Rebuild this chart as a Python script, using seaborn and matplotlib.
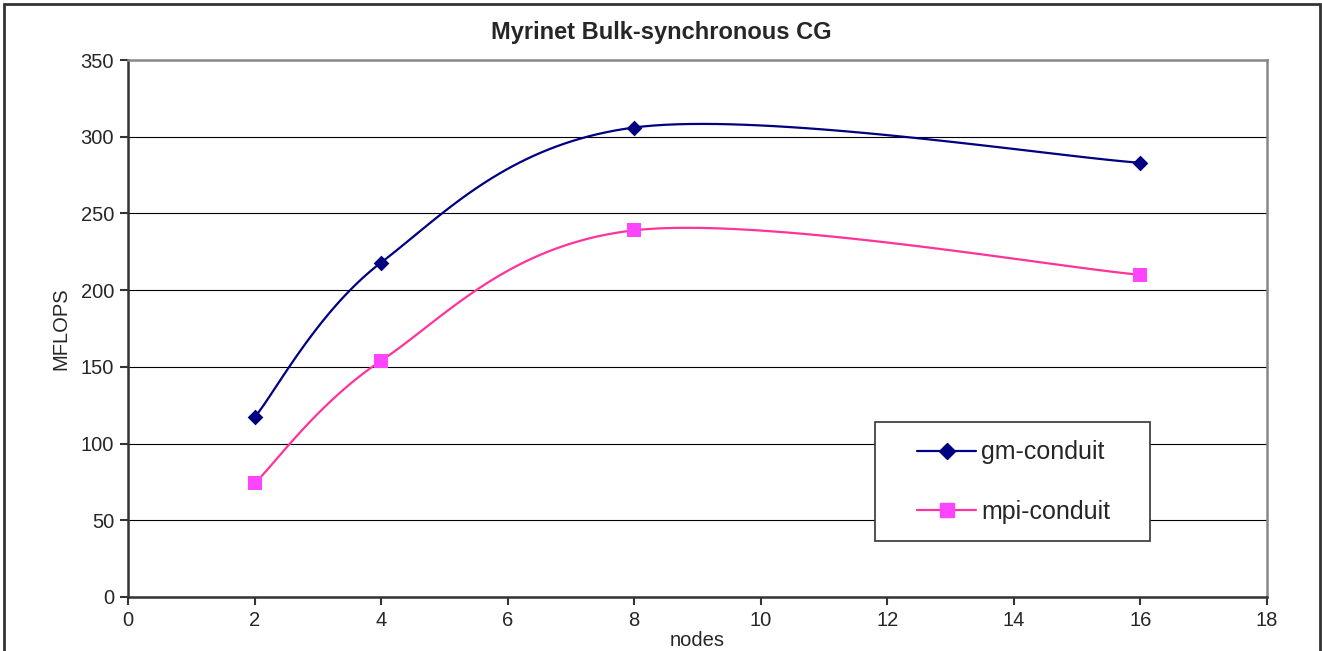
import numpy as np
import pandas as pd
import matplotlib
matplotlib.use("Agg")
import matplotlib.pyplot as plt
from matplotlib.lines import Line2D
from matplotlib.patches import Rectangle
import seaborn as sns

# ---- data ----
nodes = [2, 4, 8, 16]
gm_conduit = [117, 218, 306, 283]
mpi_conduit = [74, 154, 239, 210]
series_names = ["gm-conduit", "mpi-conduit"]
y_ticks = [0, 50, 100, 150, 200, 250, 300, 350]
x_ticks = [0, 2, 4, 6, 8, 10, 12, 14, 16, 18]

sns.set_theme(style="white")
plt.rcParams['font.family'] = ['Liberation Sans', 'DejaVu Sans']

W, H = 1322, 651
fig = plt.figure(figsize=(W / 100, H / 100), dpi=100)
AX_L, AX_R, AX_T, AX_B = 128, 1267, 60, 597
ax = fig.add_axes([AX_L / W, 1 - AX_B / H, (AX_R - AX_L) / W, (AX_B - AX_T) / H])


def smooth(xs, ys, n=40):
    """Excel-style Bezier smoothing (render only)."""
    P = np.column_stack([xs, ys]).astype(float)
    out = []
    for i in range(len(P) - 1):
        p0 = P[max(i - 1, 0)]
        p1 = P[i]
        p2 = P[i + 1]
        p3 = P[min(i + 2, len(P) - 1)]
        c1 = p1 + (p2 - p0) / 6
        c2 = p2 - (p3 - p1) / 6
        t = np.linspace(0, 1, n)[:, None]
        seg = ((1 - t) ** 3) * p1 + 3 * ((1 - t) ** 2) * t * c1 + 3 * (1 - t) * t ** 2 * c2 + t ** 3 * p2
        out.append(seg if i == 0 else seg[1:])
    return np.vstack(out)


line_colors = {"gm-conduit": "#000080", "mpi-conduit": "#FF3399"}
marker_face = {"gm-conduit": "#000080", "mpi-conduit": "#FF44FF"}
markers = {"gm-conduit": "D", "mpi-conduit": "s"}
msize = {"gm-conduit": 8.0, "mpi-conduit": 9.5}

for name, vals in zip(series_names, [gm_conduit, mpi_conduit]):
    s = smooth(nodes, vals)
    df = pd.DataFrame({"x": s[:, 0], "y": s[:, 1]})
    sns.lineplot(data=df, x="x", y="y", sort=False, estimator=None, ax=ax,
                 color=line_colors[name], lw=1.6, zorder=3)
    dp = pd.DataFrame({"x": nodes, "y": vals})
    sns.scatterplot(data=dp, x="x", y="y", ax=ax, marker=markers[name],
                    s=msize[name] ** 2, color=marker_face[name],
                    edgecolor=marker_face[name], linewidth=0, zorder=4)

ax.set_xlim(0, 18)
ax.set_ylim(0, 350)
ax.set_xticks(x_ticks)
ax.set_yticks(y_ticks)
ax.set_xticklabels([str(v) for v in x_ticks], fontsize=14.5)
ax.set_yticklabels([str(v) for v in y_ticks], fontsize=14.5)
ax.tick_params(axis='both', direction='out', length=6, width=1.5, color='#333333',
               bottom=True, left=True, pad=4)
ax.yaxis.grid(True, color='black', lw=0.8)
ax.xaxis.grid(False)
ax.set_axisbelow(True)
for sp in ['left', 'bottom']:
    ax.spines[sp].set_color('#333333')
    ax.spines[sp].set_linewidth(1.8)
for sp in ['top', 'right']:
    ax.spines[sp].set_color('#888888')
    ax.spines[sp].set_linewidth(1.8)

ax.set_xlabel("nodes", fontsize=14.5)
ax.set_ylabel("MFLOPS", fontsize=14.5)
ax.xaxis.set_label_coords(0.5, -0.064)
ax.yaxis.set_label_coords(-0.051, 0.5)

fig.text(0.5, 1 - 33 / H, "Myrinet Bulk-synchronous CG", ha='center', va='center',
         fontsize=17, fontweight='bold')

# legend frame drawn as a box, legend entries placed inside
aw, ah = AX_R - AX_L, AX_B - AX_T
box = Rectangle(((875 - AX_L) / aw, (AX_B - 541) / ah), (1150 - 875) / aw, (541 - 422) / ah,
                transform=ax.transAxes, facecolor='white', edgecolor='#333333',
                lw=1.2, zorder=10)
ax.add_patch(box)

handles = [Line2D([0], [0], color=line_colors[n], lw=1.6, marker=markers[n],
                  markersize=msize[n], markerfacecolor=marker_face[n],
                  markeredgecolor=marker_face[n]) for n in series_names]
leg = ax.legend(handles, series_names, loc='center left',
                bbox_to_anchor=((917 - AX_L) / aw, (AX_B - 482) / ah),
                fontsize=18, frameon=False,
                handlelength=2.36, handletextpad=0.2, labelspacing=1.4,
                borderaxespad=0, borderpad=0)
leg.set_zorder(11)

fig.patches.append(Rectangle((4 / W, -0.05), (1320 - 4) / W, 1.05 - 4 / H,
                             transform=fig.transFigure, fill=False,
                             edgecolor='#333333', lw=2, figure=fig))

fig.savefig("out.png", dpi=100)
